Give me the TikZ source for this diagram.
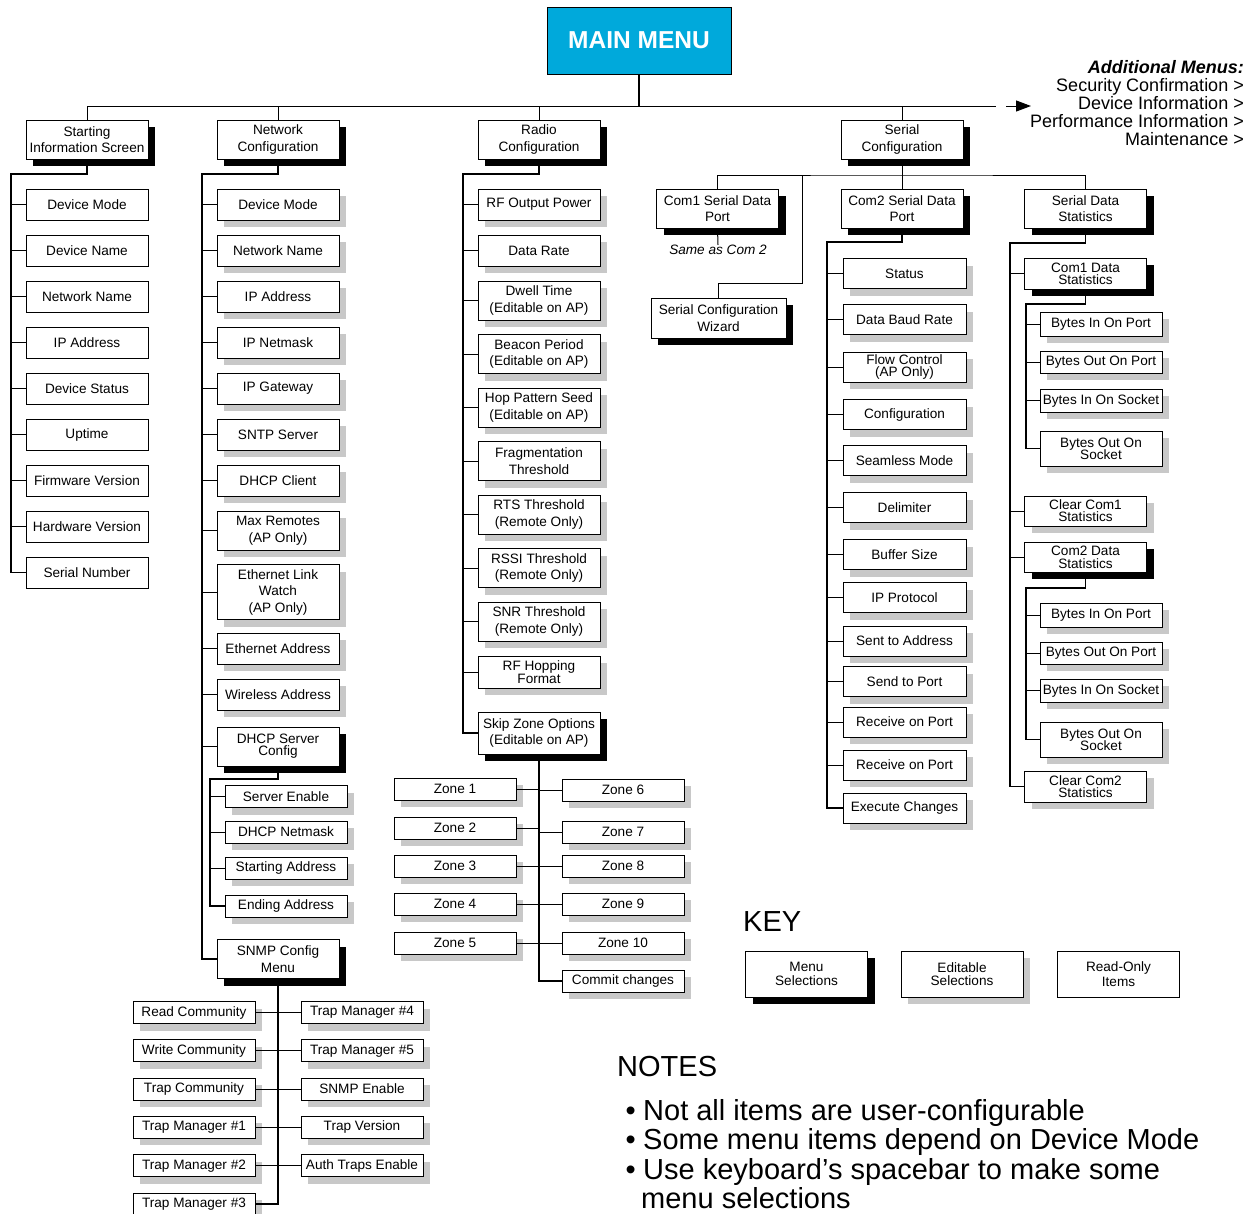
\documentclass[tikz,border=0pt]{standalone}
\usepackage{fontspec}
\setmainfont{Liberation Sans}
\usetikzlibrary{shadows,arrows.meta}
\definecolor{menublue}{RGB}{0,169,219}
\definecolor{editgray}{RGB}{200,200,200}

\begin{document}
\begin{tikzpicture}[x=1pt,y=-1pt,
  font=\fontsize{13.6}{16.5}\selectfont,
  box/.style={draw,line width=0.9pt,fill=white,minimum width=122pt,minimum height=31pt,inner sep=0pt,align=center},
  ro/.style={box},
  edit/.style={box,general shadow={fill=editgray,shadow xshift=7pt,shadow yshift=-7pt}},
  menu/.style={box,general shadow={fill=black,shadow xshift=7pt,shadow yshift=-7pt}},
  link/.style={line width=1pt},
  trunk/.style={line width=1.6pt},
  big/.style={font=\fontsize{29}{30}\selectfont,inner sep=0pt},
  side/.style={font=\fontsize{18}{18}\selectfont,inner sep=0pt,anchor=base east}]
\useasboundingbox (0,0) rectangle (1253,1213);

\node[draw,line width=0.9pt,fill=menublue,text=white,font=\fontsize{24.5}{28}\selectfont\bfseries,minimum width=184pt,minimum height=67pt] (main) at (639,40.5) {MAIN MENU};
\coordinate (busl) at (87,106);
\coordinate (busr) at (996,106);
\coordinate (dash) at (1006,106);
\coordinate (more) at (1031,106);
\draw[trunk] (main.south) -- (main.south |- busl);
\draw[link] (busl) -- (busr);
\draw[link,-{Triangle[length=15pt,width=11pt]}] (dash) -- (more);

\node[side,font=\fontsize{18}{18}\selectfont\bfseries\itshape] (addm) at (1244,73) {Additional Menus:};
\foreach \t [count=\i] in {Security Confirmation >,Device Information >,Performance Information >,Maintenance >}
  \node[side] (add\i) at (1244,73+18*\i) {\t};

\node[menu,minimum height=39pt] (sis) at (87,139.5) {Starting\\Information Screen};
\node[menu,minimum height=39pt] (net) at (278,139.5) {Network\\Configuration};
\node[menu,minimum height=39pt] (rad) at (539,139.5) {Radio\\Configuration};
\node[menu,minimum height=39pt] (ser) at (902,139.5) {Serial\\Configuration};
\foreach \n in {sis,net,rad,ser}
  \draw[link] (\n.north) -- (\n.north |- busl);

\foreach \t [count=\i] in {Device Mode,Device Name,Network Name,IP Address,Device Status,Uptime,Firmware Version,Hardware Version,Serial Number}
  \node[ro] (si\i) at (87,158.5+46*\i) {\t};
\coordinate (sit) at (11,174);
\draw[trunk] (sis.south) |- (sit) |- (si9.west);
\foreach \i in {1,...,8}
  \draw[link] (si\i.west) -- (si\i.west -| sit);

\foreach \t [count=\i] in {Device Mode,Network Name,IP Address,IP Netmask,IP Gateway,SNTP Server,DHCP Client}
  \node[edit] (nc\i) at (278,158.5+46*\i) {\t};
\node[edit,minimum height=39pt] (nc8) at (278,530.5) {Max Remotes\\(AP Only)};
\node[edit,minimum height=55pt] (nc9) at (278,592) {Ethernet Link\\Watch\\(AP Only)};
\node[edit] (nc10) at (278,648.5) {Ethernet Address};
\node[edit] (nc11) at (278,694.5) {Wireless Address};
\node[menu,minimum height=39pt] (dhcp) at (278,746.5) {DHCP Server\\[-4.5pt]Config};
\node[menu,minimum height=39pt] (snmp) at (278,959) {SNMP Config\\Menu};
\coordinate (nct) at (202,174);
\draw[trunk] (net.south) |- (nct) |- (snmp.west);
\foreach \n in {nc1,nc2,nc3,nc4,nc5,nc6,nc7,nc8,nc9,nc10,nc11,dhcp}
  \draw[link] (\n.west) -- (\n.west -| nct);

\foreach \y/\t [count=\i] in {796.5/Server Enable,832/DHCP Netmask,868/Starting Address,906/Ending Address}
  \node[edit,minimum height=22pt] (dh\i) at (286,\y) {\t};
\coordinate (dht) at (210,779);
\draw[trunk] (dhcp.south) |- (dht) |- (dh4.west);
\foreach \i in {1,2,3}
  \draw[link] (dh\i.west) -- (dh\i.west -| dht);

\foreach \t [count=\i] in {Read Community,Write Community,Trap Community,Trap Manager \#1,Trap Manager \#2,Trap Manager \#3}
  \node[edit,minimum height=22pt] (sl\i) at (194,974.2+38.3*\i) {\t};
\foreach \t [count=\i] in {Trap Manager \#4,Trap Manager \#5,SNMP Enable,Trap Version,Auth Traps Enable}
  \node[edit,minimum height=22pt] (sr\i) at (362,974.2+38.3*\i) {\t};
\draw[trunk] (snmp.south) |- (sl6.east);
\foreach \i in {1,...,5}
  \draw[link] (sl\i.east) -- (sr\i.west);

\node[edit] (rc1) at (539,204.5) {RF Output Power};
\node[edit] (rc2) at (539,250.5) {Data Rate};
\foreach \t [count=\i from 3] in {{Dwell Time\\(Editable on AP)},{Beacon Period\\(Editable on AP)},{Hop Pattern Seed\\(Editable on AP)},{Fragmentation\\Threshold},{RTS Threshold\\(Remote Only)},{RSSI Threshold\\(Remote Only)},{SNR Threshold\\(Remote Only)}}
  \node[edit,minimum height=39pt] (rc\i) at (539,140+53.5*\i) {\t};
\node[edit,minimum height=32pt] (rc10) at (539,672) {RF Hopping\\[-4pt]Format};
\node[menu,minimum height=42pt] (skip) at (539,733) {Skip Zone Options\\(Editable on AP)};
\coordinate (rct) at (463,174);
\draw[trunk] (rad.south) |- (rct) |- (skip.west);
\foreach \i in {1,...,10}
  \draw[link] (rc\i.west) -- (rc\i.west -| rct);

\foreach \y [count=\i] in {789,828,866,904,943}
  \node[edit,minimum height=22pt] (zl\i) at (455,\y) {Zone \i};
\foreach \y/\z [count=\i] in {790/6,832/7,866/8,904/9,943/10}
  \node[edit,minimum height=22pt] (zr\i) at (623,\y) {Zone \z};
\node[edit,minimum height=22pt] (commit) at (623,981) {Commit changes};
\draw[trunk] (skip.south) |- (commit.west);
\foreach \i in {1,...,5}{
  \draw[link] (zl\i.east) -- (zl\i.east -| skip.south);
  \draw[link] (zr\i.west) -- (zr\i.west -| skip.south);
}

\node[menu,minimum height=39pt] (com1) at (717.5,208.5) {Com1 Serial Data\\Port};
\node[menu,minimum height=39pt] (com2) at (902,208.5) {Com2 Serial Data\\Port};
\node[menu,minimum height=39pt] (sds) at (1085.5,208.5) {Serial Data\\Statistics};
\node[menu,minimum width=135pt,minimum height=40pt] (wiz) at (718.5,318) {Serial Configuration\\Wizard};
\node[inner sep=0pt,font=\fontsize{13.6}{16.5}\selectfont\itshape] (same) at (718,250) {Same as Com 2};
\coordinate (sbus) at (902,175);
\coordinate (wzt) at (802,175);
\coordinate (wzb) at (802,283);
\draw[link] (ser.south) -- (sbus);
\draw[link] (com1.north) |- (sbus) -| (sds.north);
\draw[link] (com2.north) -- (sbus);
\draw[link] (wzt) -- (wzb) -| (wiz.north);
\draw[link] (com1.south) -- (same.north);

\foreach \y/\t [count=\i] in {273.5/Status,319.5/Data Baud Rate,367/{Flow Control\\[-4pt](AP Only)},414.5/Configuration,460.5/Seamless Mode,507.5/Delimiter,554.5/Buffer Size,597.5/IP Protocol,641/Sent to Address,681.5/Send to Port,722/Receive on Port,765/Receive on Port,808/Execute Changes}
  \node[edit,minimum width=123pt,minimum height=30pt] (cp\i) at (904.5,\y) {\t};
\coordinate (cpt) at (827,242);
\draw[trunk] (com2.south) |- (cpt) |- (cp13.west);
\foreach \i in {1,...,12}
  \draw[link] (cp\i.west) -- (cp\i.west -| cpt);

\node[menu,minimum height=31pt] (c1s) at (1085.5,273.5) {Com1 Data\\[-4.5pt]Statistics};
\node[edit,minimum height=30pt] (clr1) at (1085.5,511) {Clear Com1\\[-4.5pt]Statistics};
\node[menu,minimum height=30pt] (c2s) at (1085.5,557) {Com2 Data\\[-3.5pt]Statistics};
\node[edit,minimum height=31pt] (clr2) at (1085.5,786.5) {Clear Com2\\[-4.5pt]Statistics};
\coordinate (sdt) at (1010,243);
\draw[trunk] (sds.south) |- (sdt) |- (clr2.west);
\foreach \n in {c1s,clr1,c2s}
  \draw[link] (\n.west) -- (\n.west -| sdt);

\foreach \y/\h/\t [count=\i] in {324/24/Bytes In On Port,362/22/Bytes Out On Port,400.5/23/Bytes In On Socket,448.5/35/{Bytes Out On\\[-4.5pt]Socket}}
  \node[edit,minimum height=\h pt] (ba\i) at (1101,\y) {\t};
\coordinate (bat) at (1026,304);
\draw[trunk] (c1s.south) |- (bat) |- (ba4.west);
\foreach \i in {1,2,3}
  \draw[link] (ba\i.west) -- (ba\i.west -| bat);

\foreach \y/\h/\t [count=\i] in {615/24/Bytes In On Port,653/22/Bytes Out On Port,690.5/23/Bytes In On Socket,739.5/35/{Bytes Out On\\[-4.5pt]Socket}}
  \node[edit,minimum height=\h pt] (bb\i) at (1101,\y) {\t};
\coordinate (bbt) at (1026,588);
\draw[trunk] (c2s.south) |- (bbt) |- (bb4.west);
\foreach \i in {1,2,3}
  \draw[link] (bb\i.west) -- (bb\i.west -| bbt);

\node[big,anchor=west] (key) at (743,922) {KEY};
\node[menu,minimum height=46pt] (km) at (806.5,974) {Menu\\[-3pt]Selections};
\node[edit,minimum height=46pt] (ke) at (962,974) {Editable\\[-3pt]Selections};
\node[ro,minimum height=46pt] (kr) at (1118.5,974) {Read-Only\\[-2pt]Items};

\node[big,anchor=west] (notes) at (617,1067) {NOTES};
\foreach \y/\t [count=\i] in {1120/Not all items are user-configurable,1149.5/Some menu items depend on Device Mode,1179/Use keyboard’s spacebar to make some}{
  \node[big,anchor=base east] (nb\i) at (636,\y) {\textbullet};
  \node[big,anchor=base west] (nt\i) at (643,\y) {\t};
}
\node[big,anchor=base west] (nt4) at (641,1208.5) {menu selections};
\end{tikzpicture}
\end{document}
